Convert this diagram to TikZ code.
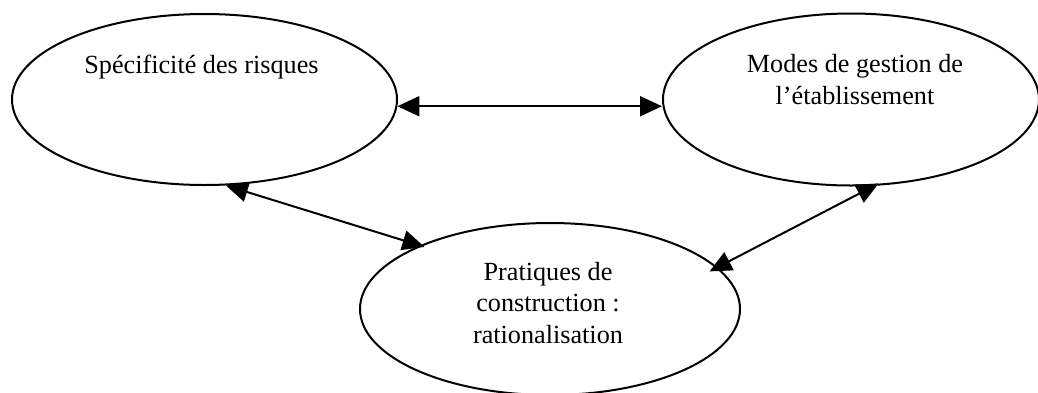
\documentclass[tikz,border=0pt]{standalone}
\usepackage{fontspec}
\setmainfont{Liberation Serif}
\usetikzlibrary{arrows.meta}
\usetikzlibrary{positioning}
\usetikzlibrary{shapes.geometric}

\begin{document}
\begin{tikzpicture}[x=0.5pt, y=-0.5pt, <->, >={Triangle[length=11pt, width=10pt]},
	line width=1pt, align=center, font=\fontsize{13.1}{15.75}\selectfont,
	zone/.style={ellipse, draw, inner sep=0pt},
	txt/.style={inner sep=0pt},
]
\useasboundingbox (0,0) rectangle (1038,392);
\node [zone, minimum width=192.5pt, minimum height=85.5pt] (risk) at (204.5,99.5) {};
\node [zone, minimum width=188pt, minimum height=86pt]     (gest) at (851,99.5)   {};
\node [zone, minimum width=190pt, minimum height=86pt]     (prat) at (550,309)    {};
%
\node [txt, below=20.5pt of risk.north, xshift=-1.5pt] (riskT) {Spécificité des risques};
\node [txt, below=20.5pt of gest.north, xshift=2pt]    (gestT) {Modes de gestion de\\l’établissement};
\node [txt, below=19.5pt of prat.north, xshift=-1pt]   (pratT) {Pratiques de\\construction :\\rationalisation};
%
\draw (risk.-2.5) -- (risk.-2.5 -| gest.west);
\draw [shorten >=-2.5pt] (risk.-76.5) -- (prat.154.3);
\draw [shorten <=-2.5pt, shorten >=-4.5pt] (gest.-75.1) -- (prat.14.1);
\end{tikzpicture}
\end{document}
